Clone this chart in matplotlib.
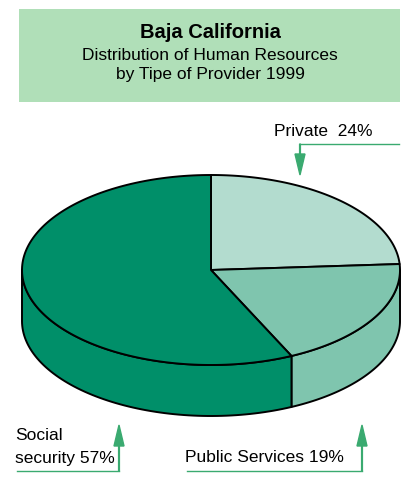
import numpy as np
import matplotlib.pyplot as plt
from matplotlib.patches import Polygon, Rectangle, FancyArrow

plt.rcParams['font.family'] = ['Liberation Sans', 'DejaVu Sans']

title = 'Baja California'
subtitle = ['Distribution of Human Resources', 'by Tipe of Provider 1999']
labels = ['Private', 'Public Services', 'Social security']
shares = [24, 19, 57]
colors = ['#b3dccf', '#7fc5ae', '#008f69']

W, H = 406, 487
fig = plt.figure(figsize=(W / 100, H / 100), dpi=100)
ax = fig.add_axes([0, 0, 1, 1])
ax.set_xlim(0, W)
ax.set_ylim(H, 0)
ax.axis('off')

# title box
ax.add_patch(Rectangle((19, 9), 381, 93, facecolor='#b0dfb8', edgecolor='none'))
ax.text(210, 32, title, ha='center', va='center', fontsize=14.5, fontweight='bold')
ax.text(210, 55, subtitle[0], ha='center', va='center', fontsize=12.5)
ax.text(210, 75, subtitle[1], ha='center', va='center', fontsize=12.5)

# 3d pie geometry (screen coords, y down)
cx, cy, rx, ry, depth = 211, 270, 189, 95, 51


def pt(a, dz=0):
    r = np.radians(a)
    return cx + rx * np.cos(r), cy - ry * np.sin(r) + dz


# slices go clockwise from 12 o'clock
starts = []
a = 90.0
for s in shares:
    starts.append((a, a - s * 3.6))
    a -= s * 3.6

# side walls: only the front half (math angles 180..360)
for (a0, a1), c in zip(starts, colors):
    hi, lo = a0, a1
    segs = []
    for k in (0, -360):
        h2, l2 = min(hi + k, 0), max(lo + k, -180)
        if h2 > l2:
            segs.append((l2, h2))
    for l2, h2 in segs:
        angs = np.linspace(l2, h2, 80)
        top = [pt(t) for t in angs]
        bot = [pt(t, depth) for t in angs[::-1]]
        ax.add_patch(Polygon(top + bot, closed=True, facecolor=c,
                             edgecolor='black', lw=1.4, joinstyle='round'))

# top face
for (a0, a1), c in zip(starts, colors):
    angs = np.linspace(a0, a1, 150)
    verts = [(cx, cy)] + [pt(t) for t in angs]
    ax.add_patch(Polygon(verts, closed=True, facecolor=c,
                         edgecolor='black', lw=1.4, joinstyle='round'))

# callouts
green = '#3aaa70'
ax.text(274, 131, f'{labels[0]}  {shares[0]}%', ha='left', va='center', fontsize=12.5)
ax.plot([300, 399], [144, 144], color=green, lw=1)
ax.add_patch(FancyArrow(300, 144, 0, 31, width=0.8, head_width=10, head_length=21,
                        length_includes_head=True, color=green))

ax.text(15, 436, 'Social', ha='left', va='center', fontsize=12.5)
ax.text(15, 459, f'security {shares[2]}%', ha='left', va='center', fontsize=12.5)
ax.plot([17, 119], [471, 471], color=green, lw=1)
ax.add_patch(FancyArrow(119, 471, 0, -46, width=0.8, head_width=10, head_length=21,
                        length_includes_head=True, color=green))

ax.text(185, 458, f'{labels[1]} {shares[1]}%', ha='left', va='center', fontsize=12.5)
ax.plot([187, 362], [471, 471], color=green, lw=1)
ax.add_patch(FancyArrow(362, 471, 0, -46, width=0.8, head_width=10, head_length=21,
                        length_includes_head=True, color=green))

fig.savefig('out.png', dpi=100)
